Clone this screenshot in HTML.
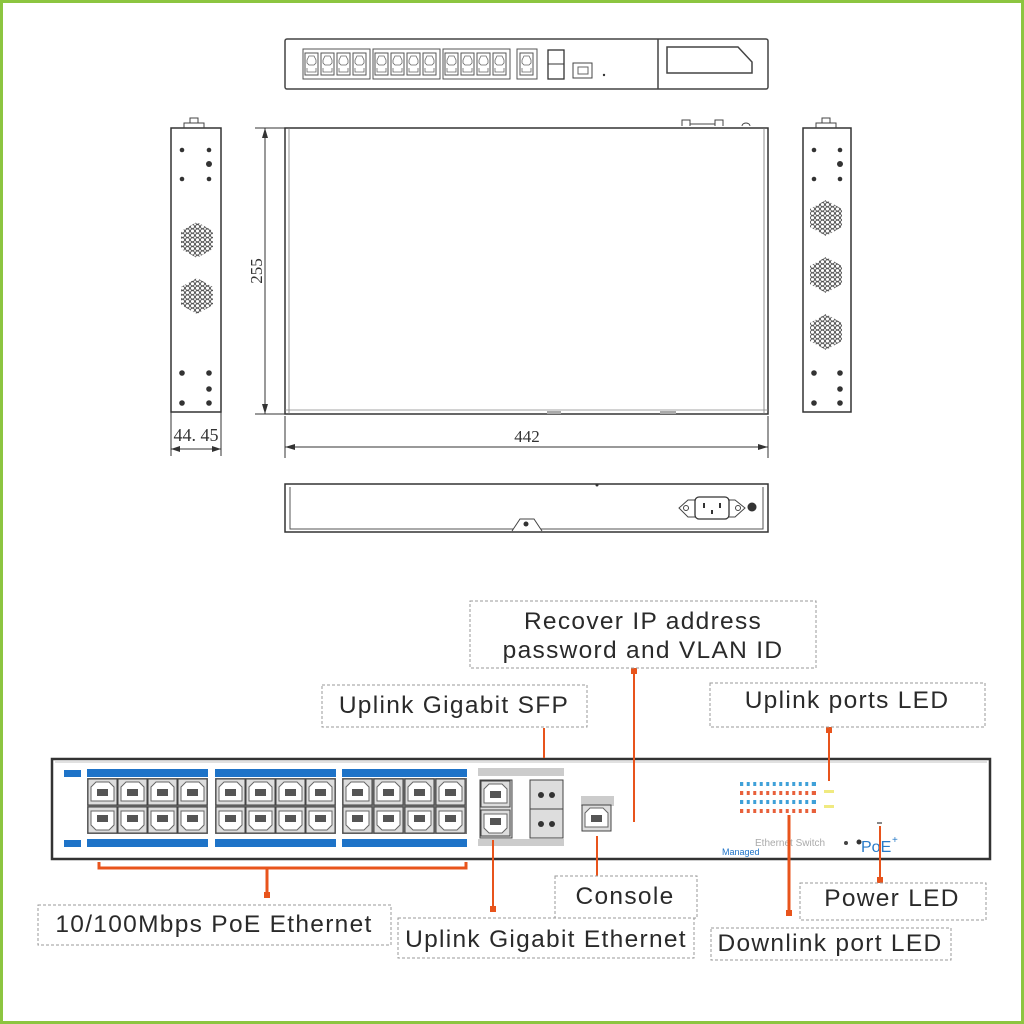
<!DOCTYPE html>
<html><head><meta charset="utf-8"><style>
html,body{margin:0;padding:0;background:#fff}
svg{display:block}
text{font-family:"Liberation Sans",sans-serif}
</style></head><body>
<svg width="1024" height="1024" viewBox="0 0 1024 1024" xmlns="http://www.w3.org/2000/svg">
<defs>
 <pattern id="hx" width="5" height="4.4" patternUnits="userSpaceOnUse">
  <circle cx="2.5" cy="2.2" r="2" fill="none" stroke="#444" stroke-width="0.9"/>
 </pattern>
 <g id="tp">
  <rect x="0" y="0" width="13" height="22" fill="#fff" stroke="#555" stroke-width="1"/>
  <path d="M2 7 L4 3 H9 L11 7 V10 L9 12 H4 L2 10Z M2 15 V19 H11 V15" fill="none" stroke="#666" stroke-width="0.8"/>
 </g>
 <g id="rj">
  <rect x="0" y="0" width="29" height="26" fill="#ddd" stroke="#444" stroke-width="1"/>
  <path d="M3 8 L8 3 H21 L26 8 V22 H3Z" fill="#fff" stroke="#666" stroke-width="1"/>
  <rect x="9" y="10" width="11" height="7" fill="#555"/>
 </g>
 <g id="rjd">
  <rect x="0" y="0" width="29" height="26" fill="#ddd" stroke="#444" stroke-width="1"/>
  <path d="M3 4 H26 V18 L21 23 H8 L3 18Z" fill="#fff" stroke="#666" stroke-width="1"/>
  <rect x="9" y="8" width="11" height="7" fill="#555"/>
 </g>
</defs>
<rect x="1.5" y="1.5" width="1021" height="1021" fill="#fff" stroke="#8cc540" stroke-width="3"/>

<!-- top view (front) -->
<rect x="285" y="39" width="483" height="50" rx="2" fill="#fff" stroke="#444" stroke-width="1.5"/>
<line x1="658" y1="39" x2="658" y2="89" stroke="#444" stroke-width="1.5"/>
<path d="M667 47 H738 L752 62 V73 H667Z" fill="none" stroke="#444" stroke-width="1.5"/>
<g>
 <rect x="303" y="49" width="67" height="30" fill="none" stroke="#555"/>
 <rect x="373" y="49" width="67" height="30" fill="none" stroke="#555"/>
 <rect x="443" y="49" width="67" height="30" fill="none" stroke="#555"/>
 <use href="#tp" x="305" y="53"/><use href="#tp" x="321" y="53"/><use href="#tp" x="337" y="53"/><use href="#tp" x="353" y="53"/>
 <use href="#tp" x="375" y="53"/><use href="#tp" x="391" y="53"/><use href="#tp" x="407" y="53"/><use href="#tp" x="423" y="53"/>
 <use href="#tp" x="445" y="53"/><use href="#tp" x="461" y="53"/><use href="#tp" x="477" y="53"/><use href="#tp" x="493" y="53"/>
 <rect x="517" y="49" width="20" height="30" fill="none" stroke="#555"/><use href="#tp" x="520" y="53"/>
 <rect x="548" y="50" width="16" height="29" fill="none" stroke="#333" stroke-width="1.3"/><line x1="548" y1="64" x2="564" y2="64" stroke="#333"/>
 <rect x="573" y="63" width="19" height="15" fill="none" stroke="#444"/><rect x="578" y="67" width="10" height="7" fill="none" stroke="#666"/>
 <circle cx="604" cy="75" r="1.2" fill="#333"/>
</g>

<!-- main top plate -->
<rect x="285" y="128" width="483" height="286" fill="#fff" stroke="#333" stroke-width="1.5"/>
<line x1="289" y1="128" x2="289" y2="414" stroke="#777" stroke-width="0.8"/>
<line x1="764" y1="128" x2="764" y2="414" stroke="#777" stroke-width="0.8"/>
<line x1="285" y1="410" x2="768" y2="410" stroke="#888" stroke-width="0.8"/>
<rect x="547" y="411" width="14" height="3" fill="#aaa"/>
<rect x="660" y="411" width="16" height="3" fill="#aaa"/>
<path d="M682 126 V120 H690 V126 M715 126 V120 H723 V126 M690 124 H715 M742 126 A4 3 0 0 1 750 126" fill="none" stroke="#444"/>
<!-- 255 dim -->
<line x1="255" y1="128" x2="285" y2="128" stroke="#333"/>
<line x1="255" y1="414" x2="285" y2="414" stroke="#333"/>
<line x1="265" y1="128" x2="265" y2="414" stroke="#333"/>
<path d="M265 128 l-3 10 h6z M265 414 l-3 -10 h6z" fill="#333"/>
<text transform="translate(262,271) rotate(-90)" text-anchor="middle" font-size="17" fill="#333" style="font-family:'Liberation Serif',serif">255</text>
<!-- 442 dim -->
<line x1="285" y1="416" x2="285" y2="458" stroke="#333"/>
<line x1="768" y1="416" x2="768" y2="458" stroke="#333"/>
<line x1="285" y1="447" x2="768" y2="447" stroke="#333"/>
<path d="M285 447 l10 -3 v6z M768 447 l-10 -3 v6z" fill="#333"/>
<text x="527" y="442" text-anchor="middle" font-size="17" fill="#333" style="font-family:'Liberation Serif',serif">442</text>

<!-- left side -->
<rect x="171" y="128" width="50" height="284" fill="#fff" stroke="#333" stroke-width="1.5"/>
<path d="M184 128 v-5 h20 v5 M190 123 v-5 h8 v5" fill="none" stroke="#444"/>
<g fill="#333"><circle cx="182" cy="150" r="2.3"/><circle cx="209" cy="150" r="2.3"/><circle cx="209" cy="164" r="3"/><circle cx="182" cy="179" r="2.3"/><circle cx="209" cy="179" r="2.3"/>
<circle cx="182" cy="373" r="2.8"/><circle cx="209" cy="373" r="2.8"/><circle cx="209" cy="389" r="2.8"/><circle cx="182" cy="403" r="2.8"/><circle cx="209" cy="403" r="2.8"/></g>
<polygon points="197,222 213,231 213,249 197,258 181,249 181,231" fill="url(#hx)"/>
<polygon points="197,278 213,287 213,305 197,314 181,305 181,287" fill="url(#hx)"/>
<line x1="171" y1="412" x2="171" y2="456" stroke="#333"/>
<line x1="221" y1="412" x2="221" y2="456" stroke="#333"/>
<line x1="171" y1="449" x2="221" y2="449" stroke="#333"/>
<path d="M171 449 l9 -3 v6z M221 449 l-9 -3 v6z" fill="#333"/>
<text x="196" y="441" text-anchor="middle" font-size="18" fill="#333" style="font-family:'Liberation Serif',serif">44. 45</text>

<!-- right side -->
<rect x="803" y="128" width="48" height="284" fill="#fff" stroke="#333" stroke-width="1.5"/>
<path d="M816 128 v-5 h20 v5 M822 123 v-5 h8 v5" fill="none" stroke="#444"/>
<g fill="#333"><circle cx="814" cy="150" r="2.3"/><circle cx="840" cy="150" r="2.3"/><circle cx="840" cy="164" r="3"/><circle cx="814" cy="179" r="2.3"/><circle cx="840" cy="179" r="2.3"/>
<circle cx="814" cy="373" r="2.8"/><circle cx="840" cy="373" r="2.8"/><circle cx="840" cy="389" r="2.8"/><circle cx="814" cy="403" r="2.8"/><circle cx="840" cy="403" r="2.8"/></g>
<polygon points="826,200 842,209 842,227 826,236 810,227 810,209" fill="url(#hx)"/>
<polygon points="826,257 842,266 842,284 826,293 810,284 810,266" fill="url(#hx)"/>
<polygon points="826,314 842,323 842,341 826,350 810,341 810,323" fill="url(#hx)"/>

<!-- rear view -->
<rect x="285" y="484" width="483" height="48" fill="#fff" stroke="#333" stroke-width="1.5"/>
<path d="M290 487 V529 H763 V487" fill="none" stroke="#555"/>
<path d="M512 531 L520 519 H534 L542 531" fill="#fff" stroke="#444"/>
<circle cx="526" cy="524" r="2.5" fill="#333"/>
<circle cx="597" cy="485" r="1.5" fill="#333"/>
<path d="M688 500 H735 L745 508 L735 517 H688 L679 508Z" fill="#fff" stroke="#444"/>
<rect x="695" y="497" width="34" height="22" rx="4" fill="#fff" stroke="#333" stroke-width="1.3"/>
<circle cx="686" cy="508" r="2.5" fill="none" stroke="#444"/><circle cx="738" cy="508" r="2.5" fill="none" stroke="#444"/>
<g fill="#333"><rect x="703" y="503" width="2" height="5"/><rect x="719" y="503" width="2" height="5"/><rect x="711" y="510" width="2" height="4"/></g>
<circle cx="752" cy="507" r="4.5" fill="#333"/>

<!-- front panel -->
<rect x="52" y="759" width="938" height="100" fill="#fff" stroke="#333" stroke-width="2.5"/>
<line x1="55" y1="762" x2="987" y2="762" stroke="#888" stroke-width="0.6"/>
<g fill="#1e73c8">
 <rect x="64" y="770" width="17" height="7"/><rect x="64" y="840" width="17" height="7"/>
 <rect x="87" y="769" width="121" height="8"/><rect x="215" y="769" width="121" height="8"/><rect x="342" y="769" width="125" height="8"/>
 <rect x="87" y="839" width="121" height="8"/><rect x="215" y="839" width="121" height="8"/><rect x="342" y="839" width="125" height="8"/>
</g>
<rect x="87" y="778" width="121" height="56" fill="#777"/>
<rect x="215" y="778" width="121" height="56" fill="#777"/>
<rect x="342" y="778" width="125" height="56" fill="#777"/>
<g>
 <use href="#rj" x="88" y="779"/><use href="#rj" x="118" y="779"/><use href="#rj" x="148" y="779"/><use href="#rj" x="178" y="779"/>
 <use href="#rjd" x="88" y="807"/><use href="#rjd" x="118" y="807"/><use href="#rjd" x="148" y="807"/><use href="#rjd" x="178" y="807"/>
 <use href="#rj" x="216" y="779"/><use href="#rj" x="246" y="779"/><use href="#rj" x="276" y="779"/><use href="#rj" x="306" y="779"/>
 <use href="#rjd" x="216" y="807"/><use href="#rjd" x="246" y="807"/><use href="#rjd" x="276" y="807"/><use href="#rjd" x="306" y="807"/>
 <use href="#rj" x="343" y="779"/><use href="#rj" x="374" y="779"/><use href="#rj" x="405" y="779"/><use href="#rj" x="436" y="779"/>
 <use href="#rjd" x="343" y="807"/><use href="#rjd" x="374" y="807"/><use href="#rjd" x="405" y="807"/><use href="#rjd" x="436" y="807"/>
</g>
<!-- uplink -->
<rect x="478" y="768" width="86" height="8" fill="#ccc"/>
<rect x="478" y="839" width="86" height="7" fill="#ccc"/>
<rect x="480" y="780" width="32" height="58" fill="#ddd" stroke="#444"/>
<use href="#rj" x="481" y="781"/><use href="#rjd" x="481" y="810"/>
<rect x="530" y="780" width="33" height="29" fill="#ddd" stroke="#444"/>
<rect x="530" y="809" width="33" height="29" fill="#ddd" stroke="#444"/>
<g fill="#333"><circle cx="541" cy="795" r="3"/><circle cx="552" cy="795" r="3"/><circle cx="541" cy="824" r="3"/><circle cx="552" cy="824" r="3"/></g>
<!-- console -->
<rect x="581" y="796" width="33" height="10" fill="#ccc"/>
<use href="#rj" x="582" y="805"/>
<!-- LEDs -->
<g>
 <g fill="#3fa0d8">
  <rect x="740" y="782" width="76" height="4"/><rect x="740" y="800" width="76" height="4"/>
 </g>
 <g fill="#e8603a">
  <rect x="740" y="791" width="76" height="4"/><rect x="740" y="809" width="76" height="4"/>
 </g>
 <g stroke="#fff" stroke-width="3.5">
  <path d="M745 780 v35 M751.5 780 v35 M758 780 v35 M764.5 780 v35 M771 780 v35 M777.5 780 v35 M784 780 v35 M790.5 780 v35 M797 780 v35 M803.5 780 v35 M810 780 v35"/>
 </g>
 <rect x="824" y="790" width="10" height="3" fill="#f0ea80"/>
 <rect x="824" y="805" width="10" height="3" fill="#f0ea80"/>
</g>
<text x="755" y="846" font-size="10" fill="#aaa">Ethernet Switch</text>
<circle cx="846" cy="843" r="2" fill="#444"/>
<text x="722" y="855" font-size="9" fill="#1e73c8">Managed</text>
<circle cx="859" cy="842" r="2.5" fill="#333"/>
<text x="861" y="852" font-size="16" fill="#2a7bc8">PoE</text>
<text x="892" y="843" font-size="10" fill="#2a7bc8">+</text>
<rect x="877" y="822" width="5" height="2" fill="#888"/>

<!-- callouts -->
<g stroke="#e8541c" stroke-width="3" fill="none">
 <line x1="634" y1="670" x2="634" y2="822" stroke-width="2"/>
 <line x1="544" y1="728" x2="544" y2="758" stroke-width="2"/>
 <line x1="829" y1="727" x2="829" y2="781" stroke-width="2"/>
 <line x1="597" y1="836" x2="597" y2="876" stroke-width="2"/>
 <line x1="880" y1="826" x2="880" y2="883" stroke-width="2"/>
 <line x1="789" y1="815" x2="789" y2="912"/>
 <line x1="493" y1="840" x2="493" y2="908" stroke-width="2"/>
 <path d="M99 862 V868 H466 V862"/>
 <line x1="267" y1="868" x2="267" y2="893"/>
</g>
<g fill="#e8541c"><rect x="264" y="892" width="6" height="6"/><rect x="490" y="906" width="6" height="6"/><rect x="786" y="910" width="6" height="6"/><rect x="877" y="877" width="6" height="6"/><rect x="631" y="668" width="6" height="6"/><rect x="826" y="727" width="6" height="6"/></g>

<g fill="#fff" stroke="#999" stroke-width="1" stroke-dasharray="3,2">
 <rect x="470" y="601" width="346" height="67"/>
 <rect x="322" y="685" width="265" height="42"/>
 <rect x="710" y="683" width="275" height="44"/>
 <rect x="555" y="876" width="142" height="42"/>
 <rect x="800" y="883" width="186" height="37"/>
 <rect x="711" y="928" width="240" height="32"/>
 <rect x="38" y="905" width="353" height="40"/>
 <rect x="398" y="918" width="296" height="40"/>
</g>
<g font-size="24.5" fill="#2a2a2a" text-anchor="middle" letter-spacing="1.3">
 <text x="643" y="629">Recover IP address</text>
 <text x="643" y="658">password and VLAN ID</text>
 <text x="454" y="713">Uplink Gigabit SFP</text>
 <text x="847" y="708">Uplink ports LED</text>
 <text x="625" y="904">Console</text>
 <text x="892" y="906">Power LED</text>
 <text x="830" y="951">Downlink port LED</text>
 <text x="214" y="932">10/100Mbps  PoE Ethernet</text>
 <text x="546" y="947">Uplink Gigabit Ethernet</text>
</g>
</svg>
</body></html>
